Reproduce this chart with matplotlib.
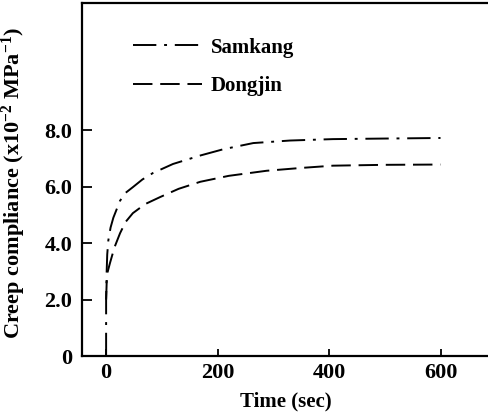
import numpy as np
import matplotlib.pyplot as plt

# values
t_samkang = [0, 0, 1, 2, 4, 8, 13, 25, 35, 48, 65, 84, 120, 169, 210, 264, 330, 407, 500, 600]
c_samkang = [0, 2.0, 3.0, 3.6, 4.1, 4.55, 4.9, 5.5, 5.78, 5.98, 6.25, 6.48, 6.8, 7.1, 7.32, 7.54, 7.63, 7.68, 7.7, 7.72]
t_dongjin = [0, 1, 3, 7, 15, 25, 35, 48, 70, 97, 130, 169, 220, 288, 350, 407, 500, 600]
c_dongjin = [2.0, 2.6, 3.0, 3.3, 3.85, 4.35, 4.75, 5.06, 5.38, 5.63, 5.92, 6.17, 6.38, 6.56, 6.66, 6.74, 6.77, 6.78]

xticks = [0, 200, 400, 600]
yticks = [0, 2, 4, 6, 8]
ytick_labels = ['0', '2.0', '4.0', '6.0', '8.0']

plt.rcParams['font.family'] = ['Liberation Serif', 'DejaVu Serif']
plt.rcParams['font.weight'] = 'bold'
plt.rcParams['mathtext.fontset'] = 'custom'
plt.rcParams['mathtext.rm'] = 'Liberation Serif:bold'
plt.rcParams['mathtext.default'] = 'rm'

fig = plt.figure(figsize=(4.89, 4.17), dpi=100)
ax = fig.add_axes([0.168, 0.146, 0.832, 0.847])

ax.plot(t_samkang, c_samkang, color='k', lw=1.4, dashes=(12, 4, 1.5, 4), label='Samkang')
ax.plot(t_dongjin, c_dongjin, color='k', lw=1.4, dashes=(10, 4), label='Dongjin')

ax.set_xlim(-43, 687)
ax.set_ylim(0, 12.5)
ax.set_xticks(xticks)
ax.set_yticks(yticks)
ax.set_yticklabels(ytick_labels)
ax.tick_params(direction='in', labelsize=16, width=1.3)
ax.tick_params(axis='y', length=7, pad=7)
ax.tick_params(axis='x', length=5, pad=5)
ax.spines['right'].set_visible(False)
plt.setp(ax.spines.values(), linewidth=1.6)

ax.set_xlabel('Time (sec)', fontsize=15, fontweight='bold', labelpad=6)
ax.set_ylabel('Creep compliance (x10$^{-2}$ MPa$^{-1}$)', fontsize=16, fontweight='bold')
ax.yaxis.set_label_coords(-0.132, 0.49)

ax.legend(loc='upper left', bbox_to_anchor=(0.08, 0.955), frameon=False,
          fontsize=15, handlelength=3.3, handletextpad=0.4, labelspacing=0.9)

fig.savefig('out.png', dpi=100)
